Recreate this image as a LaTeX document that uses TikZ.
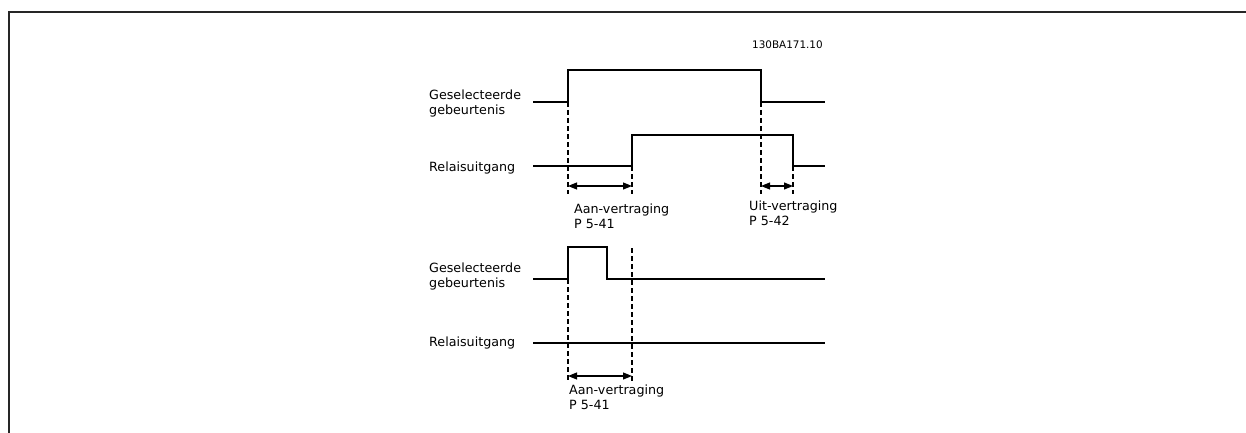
\documentclass[tikz,border=0pt]{standalone}
\usepackage{fontspec}
\setmainfont{DejaVu Sans}
\usetikzlibrary{arrows.meta}
\begin{document}
\begin{tikzpicture}[x=1pt,y=-1pt,
  sig/.style={line width=1.2pt,line join=miter},
  guide/.style={line width=1.1pt,dash pattern=on 5pt off 3pt},
  dim/.style={line width=1.1pt,{Triangle[length=9pt,width=7pt]}-{Triangle[length=9pt,width=7pt]}},
  lbl/.style={font=\fontsize{12.7}{15}\selectfont,inner sep=0pt,anchor=base west,align=left},
  frame/.style={line width=1.3pt,draw=black!85}]
\useasboundingbox (0,0) rectangle (1246,433);
% partial frame
\draw[frame] (9,433) -- (9,12) -- (1246,12);
% code
\node[font=\fontsize{10.4}{12}\selectfont,inner sep=0pt,anchor=base west] (code) at (752,49) {130BA171.10};
% --- upper diagram ---
\node[lbl] (ge1) at (429,114) {Geselecteerde\\gebeurtenis};
\node[lbl] (re1) at (429,171) {Relaisuitgang};
\coordinate (a1) at (568,102);
\coordinate (b1) at (761,102);
\coordinate (c1) at (632,166);
\coordinate (d1) at (793,166);
\draw[sig] (533,102) -- (a1) -- (568,70) -- (761,70) -- (b1) -- (825,102);
\draw[sig] (533,166) -- (c1) -- (632,135) -- (793,135) -- (d1) -- (825,166);
\draw[guide] (a1) -- (568,194);
\draw[guide] (c1) -- (632,194);
\draw[guide] (b1) -- (761,194);
\draw[guide] (d1) -- (793,194);
\draw[dim] (568,186) -- (632,186);
\draw[dim] (761,186) -- (793,186);
\node[lbl] (aan1) at (574,228) {Aan-vertraging\\P 5-41};
\node[lbl] (uit1) at (749,225) {Uit-vertraging\\P 5-42};
% --- lower diagram ---
\node[lbl] (ge2) at (429,287) {Geselecteerde\\gebeurtenis};
\node[lbl] (re2) at (429,346) {Relaisuitgang};
\coordinate (a2) at (568,279);
\draw[sig] (533,279) -- (a2) -- (568,247) -- (607,247) -- (607,279) -- (825,279);
\draw[sig] (533,343) -- (825,343);
\draw[guide] (a2) -- (568,381);
\draw[guide] (632,248) -- (632,381);
\draw[dim] (568,376) -- (632,376);
\node[lbl] (aan2) at (569,409) {Aan-vertraging\\P 5-41};
\end{tikzpicture}
\end{document}
